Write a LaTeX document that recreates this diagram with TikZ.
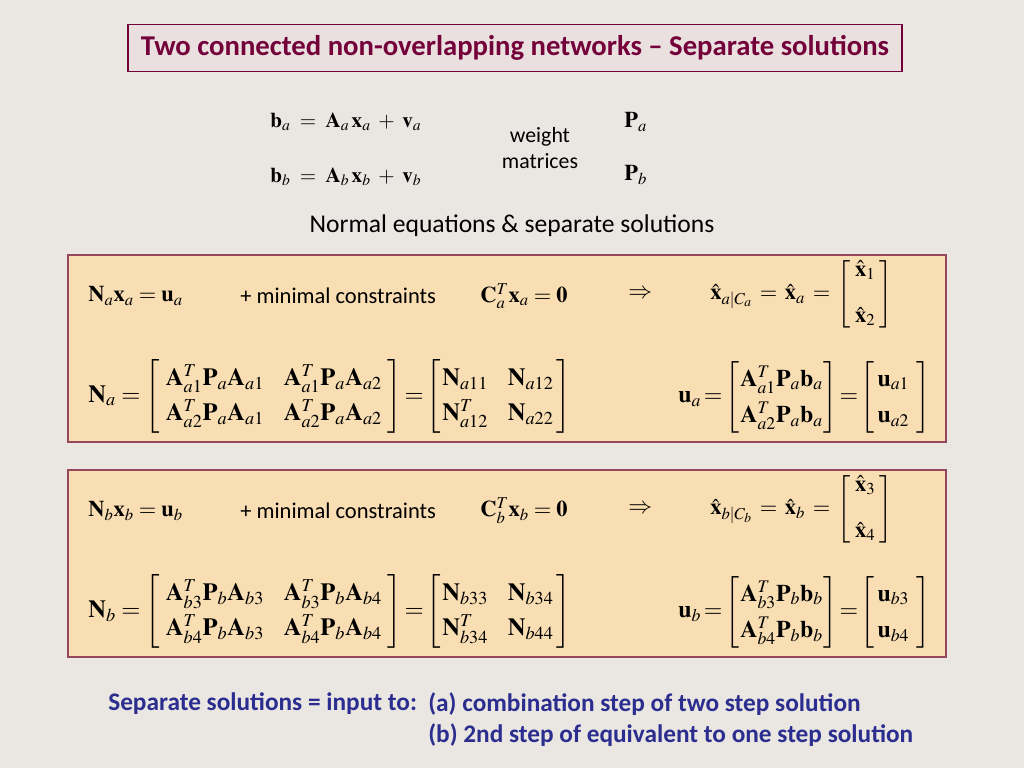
\documentclass[tikz,border=0pt]{standalone}
\usepackage{amsmath}
\usepackage{mathptmx}
\usepackage[no-math]{fontspec}
\setmainfont{Carlito}
\definecolor{slidegray}{HTML}{EAE7E3}
\definecolor{titlefill}{HTML}{E9E0DF}
\definecolor{titlered}{HTML}{74003A}
\definecolor{boxfill}{HTML}{F8DEB2}
\definecolor{boxline}{HTML}{94475A}
\definecolor{noteblue}{HTML}{2B2E8E}
\newcommand{\bv}[1]{\mathbf{#1}}
\newcommand{\hx}{\hat{\mathbf{x}}}
\newcommand{\bmat}[3]{\left[\hspace{#1}\begin{matrix}#3\end{matrix}\hspace{#2}\right]}
\newcommand{\eqs}{\mskip-2mu=\mskip-2mu}
\begin{document}
\begin{tikzpicture}[x=0.025cm,y=-0.025cm,
  title_node/.style={draw=titlered,line width=1pt,fill=titlefill,minimum width=19.35cm,minimum height=1.175cm,text=titlered,font=\fontsize{20.4}{24}\selectfont\bfseries},
  sol_box/.style={draw=boxline,line width=1pt,fill=boxfill},
  eq_top/.style={anchor=west,inner sep=0pt,font=\fontsize{15}{18}\selectfont},
  eq_node/.style={anchor=west,inner sep=0pt,font=\fontsize{16}{19}\selectfont},
  mat_node/.style={anchor=west,inner sep=0pt,font=\fontsize{17.5}{20}\selectfont},
  txt_node/.style={inner sep=0pt,font=\fontsize{16}{19}\selectfont},
  note_node/.style={anchor=west,inner sep=0pt,text=noteblue,font=\fontsize{18}{21}\selectfont\bfseries}]

\fill[slidegray] (0,0) rectangle (1024,768);

\node[title_node] (title) at (515,48) {Two connected non-overlapping networks -- Separate solutions};

\node[eq_top] (obsa) at (270,122) {$\bv{b}_a \;=\; \bv{A}_a\,\bv{x}_a \;+\; \bv{v}_a$};
\node[eq_top] (obsb) at (270,177) {$\bv{b}_b \;=\; \bv{A}_b\,\bv{x}_b \;+\; \bv{v}_b$};
\node[txt_node,align=center,font=\fontsize{15.5}{19}\selectfont] (weight) at (540,148) {weight\\matrices};
\node[eq_top,font=\fontsize{16}{19}\selectfont] (Pa) at (624,122) {$\bv{P}_a$};
\node[eq_top,font=\fontsize{16}{19}\selectfont] (Pb) at (624,175) {$\bv{P}_b$};
\node[txt_node,font=\fontsize{18.2}{22}\selectfont] (normal) at (512,226) {Normal equations \& separate solutions};

\draw[sol_box] (68,255) rectangle (946,442);
\draw[sol_box] (68,470) rectangle (946,657);

\foreach \n/\i/\j/\dy in {a/1/2/0,b/3/4/215}{
  \node[eq_node] (neq\n) at (88,296+\dy) {$\bv{N}_\n\bv{x}_\n = \bv{u}_\n$};
  \node[txt_node,anchor=west] (mc\n) at (240,296+\dy) {+ minimal constraints};
  \node[eq_node] (con\n) at (480,296+\dy) {$\bv{C}_\n^T\bv{x}_\n = \bv{0}$};
  \node[eq_node,font=\fontsize{17}{20}\selectfont] (imp\n) at (628,294+\dy) {$\Rightarrow$};
  \node[eq_node] (sol\n) at (710,294+\dy) {$\hx_{\n|C_\n} \,=\, \hx_\n \,=\, \bmat{3pt}{3pt}{\hx_\i\\[14pt] \hx_\j}$};
  \node[mat_node] (nmat\n) at (88,396+\dy) {$\bv{N}_\n = \renewcommand{\arraystretch}{1.25}\setlength{\arraycolsep}{7pt}
    \bmat{4pt}{4pt}{\bv{A}_{\n\i}^T\bv{P}_\n\bv{A}_{\n\i} & \bv{A}_{\n\i}^T\bv{P}_\n\bv{A}_{\n\j}\\
    \bv{A}_{\n\j}^T\bv{P}_\n\bv{A}_{\n\i} & \bv{A}_{\n\j}^T\bv{P}_\n\bv{A}_{\n\j}}
    \eqs \setlength{\arraycolsep}{7pt}\bmat{1pt}{2pt}{\bv{N}_{\n\i\i} & \bv{N}_{\n\i\j}\\ \bv{N}_{\n\i\j}^T & \bv{N}_{\n\j\j}}$};
  \node[mat_node,font=\fontsize{17}{20}\selectfont] (umat\n) at (678,397+\dy) {$\bv{u}_\n \eqs \renewcommand{\arraystretch}{1.3}
    \bmat{1pt}{0pt}{\bv{A}_{\n\i}^T\bv{P}_\n\bv{b}_\n\\ \bv{A}_{\n\j}^T\bv{P}_\n\bv{b}_\n}
    \eqs \bmat{2pt}{5pt}{\bv{u}_{\n\i}\\ \bv{u}_{\n\j}}$};
}

\node[note_node] (input) at (108,704) {Separate solutions = input to:};
\node[note_node] (stepa) at (428,704) {(a) combination step of two step solution};
\node[note_node] (stepb) at (428,735) {(b) 2nd step of equivalent to one step solution};
\end{tikzpicture}
\end{document}
